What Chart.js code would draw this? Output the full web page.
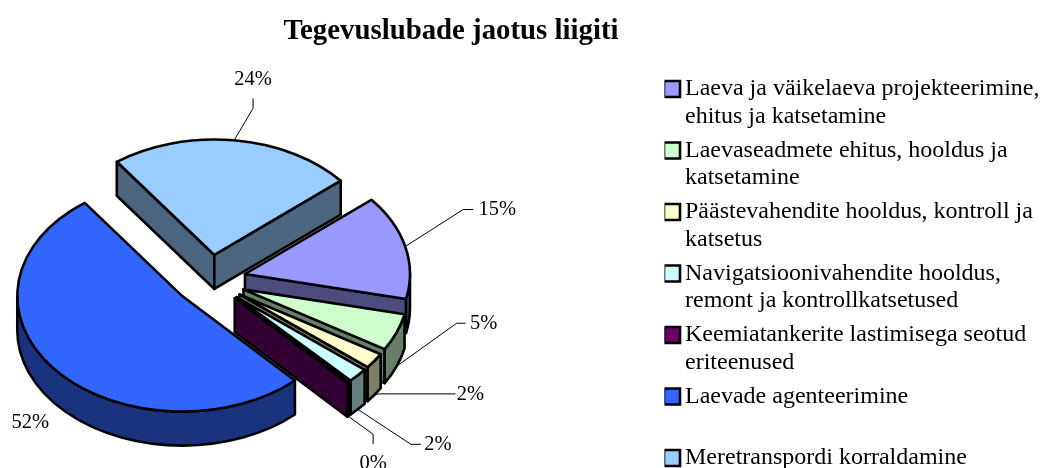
<!DOCTYPE html>
<html>
<head>
<meta charset="utf-8">
<title>Tegevuslubade jaotus liigiti</title>
<script src="https://cdn.jsdelivr.net/npm/chart.js@4"></script>
<style>
    html, body { margin: 0; padding: 0; background: #ffffff; }
    canvas { display: block; }
</style>
</head>
<body>
<canvas id="chart" width="1042" height="468"></canvas>
<script>
// chart data (the labels show these rounded)
const chartTitle = 'Tegevuslubade jaotus liigiti';
const categories = [
    ['Laeva ja väikelaeva projekteerimine,', 'ehitus ja katsetamine'],
    ['Laevaseadmete ehitus, hooldus ja', 'katsetamine'],
    ['Päästevahendite hooldus, kontroll ja', 'katsetus'],
    ['Navigatsioonivahendite hooldus,', 'remont ja kontrollkatsetused'],
    ['Keemiatankerite lastimisega seotud', 'eriteenused'],
    ['Laevade agenteerimine', ''],
    'Meretranspordi korraldamine'
];
const shares = [14.6, 5.2, 2.2, 2.0, 0.2, 52, 24];
const sliceColors = ['#9999FF', '#CCFFCC', '#FFFFCC', '#CCFFFF', '#660066', '#3366FF', '#99CCFF'];

// look of the tilted pie
const fontName = '"Liberation Serif", "Times New Roman", serif';
const pieX = 210, pieY = 280;
const pieRadius = 165;
const tilt = 0.7;        // how much the circle is flattened
const pieDepth = 34;
const explode = 36;
const edgeWidth = 2.6;

// label placing relative to the rim of each slice: [elbow, line end, text centre]
const labelPlaces = [
    [[58, -37], [68, -37], [92, -37]],
    [[60, -43], [69, -43], [87, -43]],
    [[4, -1], [81, -1], [96, 0]],
    [[53, 35], [63, 35], [80, 35]],
    [[25, 18], [25, 28], [25, 47]],
    [null, null, [-25, 19]],
    [[19, -32], [19, -42], [19, -61]]
];

function sideColor(hex) {
    // walls are the slice colour at half strength
    let r = parseInt(hex.slice(1, 3), 16) >> 1;
    let g = parseInt(hex.slice(3, 5), 16) >> 1;
    let b = parseInt(hex.slice(5, 7), 16) >> 1;
    return 'rgb(' + r + ',' + g + ',' + b + ')';
}

function sliceGeometry(arc) {
    let mid = (arc.startAngle + arc.endAngle) / 2;
    return {
        start: arc.startAngle,
        end: arc.endAngle,
        mid: mid,
        r: arc.outerRadius,
        x: arc.x + Math.cos(mid) * arc.options.offset,
        y: arc.y + Math.sin(mid) * arc.options.offset * tilt
    };
}

function rimPoint(s, angle) {
    return [s.x + Math.cos(angle) * s.r, s.y + Math.sin(angle) * s.r * tilt];
}

function paintShape(ctx, fill, arc) {
    ctx.fillStyle = fill;
    ctx.strokeStyle = arc.options.borderColor;
    ctx.lineWidth = arc.options.borderWidth;
    ctx.lineJoin = 'round';
    ctx.fill();
    ctx.stroke();
}

function drawRadialWall(ctx, s, angle, fill, arc) {
    let p = rimPoint(s, angle);
    ctx.beginPath();
    ctx.moveTo(s.x, s.y);
    ctx.lineTo(p[0], p[1]);
    ctx.lineTo(p[0], p[1] + pieDepth);
    ctx.lineTo(s.x, s.y + pieDepth);
    ctx.closePath();
    paintShape(ctx, fill, arc);
}

function drawRimWall(ctx, s, fill, arc) {
    // only the part of the rim in the front half of the ellipse can be seen
    for (let k = -1; k <= 1; k++) {
        let from = Math.max(s.start, 2 * Math.PI * k);
        let to = Math.min(s.end, Math.PI + 2 * Math.PI * k);
        if (from >= to) {
            continue;
        }
        ctx.beginPath();
        ctx.ellipse(s.x, s.y, s.r, s.r * tilt, 0, from, to);
        ctx.ellipse(s.x, s.y + pieDepth, s.r, s.r * tilt, 0, to, from, true);
        ctx.closePath();
        paintShape(ctx, fill, arc);
    }
}

function drawSlice(ctx, arc) {
    let s = sliceGeometry(arc);
    let fill = arc.options.backgroundColor;
    let wall = sideColor(fill);

    if (-Math.cos(s.start) > 0) {
        drawRadialWall(ctx, s, s.start, wall, arc);
    }
    if (Math.cos(s.end) > 0) {
        drawRadialWall(ctx, s, s.end, wall, arc);
    }
    drawRimWall(ctx, s, wall, arc);

    ctx.beginPath();
    ctx.moveTo(s.x, s.y);
    ctx.ellipse(s.x, s.y, s.r, s.r * tilt, 0, s.start, s.end);
    ctx.closePath();
    paintShape(ctx, fill, arc);
}

function drawValueLabel(ctx, arc, index) {
    let s = sliceGeometry(arc);
    let rim = rimPoint(s, s.mid);
    if (Math.sin(s.mid) > 0) {
        rim[1] += pieDepth; // front slices hang the line from the lower edge
    }
    let place = labelPlaces[index];

    if (place[0]) {
        ctx.beginPath();
        ctx.moveTo(rim[0], rim[1]);
        ctx.lineTo(rim[0] + place[0][0], rim[1] + place[0][1]);
        ctx.lineTo(rim[0] + place[1][0], rim[1] + place[1][1]);
        ctx.strokeStyle = '#000000';
        ctx.lineWidth = 1;
        ctx.stroke();
    }
    ctx.fillStyle = '#000000';
    ctx.font = '20.5px ' + fontName;
    ctx.textAlign = 'center';
    ctx.textBaseline = 'middle';
    ctx.fillText(Math.round(shares[index]) + '%', rim[0] + place[2][0], rim[1] + place[2][1]);
}

// draws the pie as a tilted, exploded 3D pie, from the arcs that Chart.js has laid out
const tiltedPiePlugin = {
    id: 'tiltedPie',
    afterLayout: function(chart) {
        // Chart.js would put the title in the canvas centre and the legend on the edge
        chart.titleBlock.left = 0;
        chart.titleBlock.right = 902;
        chart.legend.left = 664.5;
        chart.legend.right = 1042;
        chart.legend.top = 70.5;
        chart.legend.bottom = 520;
        let area = chart.chartArea;
        area.left = pieX - 200;
        area.right = pieX + 200;
        area.top = pieY - 200;
        area.bottom = pieY + 200;
        area.width = 400;
        area.height = 400;
    },
    beforeDatasetDraw: function(chart, args) {
        let ctx = chart.ctx;
        let arcs = chart.getDatasetMeta(args.index).data;
        // back to front
        let order = arcs.slice().sort(function(a, b) {
            return sliceGeometry(a).y - sliceGeometry(b).y;
        });
        ctx.save();
        order.forEach(function(arc) {
            drawSlice(ctx, arc);
        });
        arcs.forEach(function(arc, i) {
            drawValueLabel(ctx, arc, i);
        });
        ctx.restore();
        return false;
    }
};

window.onload = initialize;

function initialize() {
    new Chart(document.getElementById('chart'), {
        type: 'pie',
        plugins: [tiltedPiePlugin],
        data: {
            labels: categories,
            datasets: [{
                data: shares,
                backgroundColor: sliceColors,
                borderColor: '#000000',
                borderWidth: edgeWidth,
                offset: explode,
                radius: pieRadius,
                clip: false
            }]
        },
        options: {
            responsive: false,
            animation: false,
            rotation: 50,
            plugins: {
                title: {
                    display: true,
                    text: chartTitle,
                    color: '#000000',
                    padding: {top: 14, bottom: 0},
                    font: {family: fontName, size: 28.8, weight: 'bold'}
                },
                legend: {
                    position: 'right',
                    align: 'start',
                    labels: {
                        color: '#000000',
                        usePointStyle: true,
                        pointStyle: 'rect',
                        boxWidth: 2,
                        boxHeight: 16,
                        padding: 6.5,
                        font: {family: fontName, size: 24, lineHeight: 1.146}
                    }
                },
                tooltip: {enabled: false}
            }
        }
    });
}
</script>
</body>
</html>
